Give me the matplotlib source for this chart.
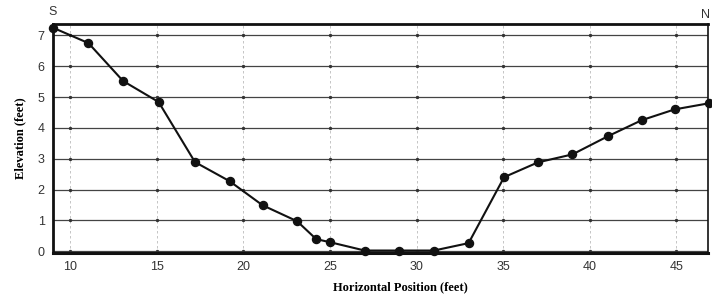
import matplotlib
matplotlib.use("Agg")
import matplotlib.pyplot as plt

x_pos = [9.0, 11.05, 13.05, 15.1, 17.2, 19.2, 21.1, 23.1, 24.2, 25.0, 27.0, 29.0, 31.0, 33.0, 35.05, 37.0, 39.0, 41.05, 43.0, 44.9, 46.9]
elev = [7.25, 6.75, 5.52, 4.84, 2.89, 2.27, 1.49, 0.97, 0.39, 0.29, 0.02, 0.02, 0.02, 0.26, 2.40, 2.88, 3.14, 3.73, 4.25, 4.60, 4.80]
x_ticks = [10, 15, 20, 25, 30, 35, 40, 45]
y_ticks = [0, 1, 2, 3, 4, 5, 6, 7]

fig = plt.figure(figsize=(7.12, 2.95), dpi=100)
ax = fig.add_axes([0.0744, 0.1424, 0.9206, 0.7762])
ax.set_xlim(9.0, 46.85)
ax.set_ylim(-0.06, 7.37)

for yv in y_ticks:
    ax.axhline(yv, color="#444444", lw=0.9, zorder=1)
for xv in x_ticks:
    ax.axvline(xv, color="#bbbbbb", lw=0.6, ls=(0, (3, 3)), zorder=1)
gx = [xv for xv in x_ticks for _ in y_ticks]
gy = [yv for _ in x_ticks for yv in y_ticks]
ax.plot(gx, gy, ls="none", marker="o", ms=1.4, color="#333333", zorder=1)

ax.plot(x_pos, elev, color="#111111", lw=1.5, marker="o", ms=5.8,
        markerfacecolor="#111111", markeredgecolor="#111111", zorder=3, clip_on=False)

ax.set_xticks(x_ticks)
ax.set_yticks(y_ticks)
ax.tick_params(length=0, pad=6, labelsize=9, colors="#333333")
for lab in ax.get_xticklabels() + ax.get_yticklabels():
    lab.set_family("Liberation Sans")
    lab.set_fontstretch("condensed")

ax.spines["top"].set_linewidth(2.0)
ax.spines["left"].set_linewidth(2.0)
ax.spines["bottom"].set_linewidth(2.2)
ax.spines["right"].set_linewidth(1.2)
for s in ax.spines.values():
    s.set_color("#111111")

ax.set_xlabel("Horizontal Position (feet)", family="Liberation Serif", weight="bold", fontsize=9)
ax.xaxis.set_label_coords(0.53, -0.125)
ax.set_ylabel("Elevation (feet)", family="Liberation Serif", weight="bold", fontsize=9)
ax.yaxis.set_label_coords(-0.04, 0.5)

fig.text(53 / 712, 1 - 12 / 295, "S", family="Liberation Sans", fontsize=9, color="#333333",
         ha="center", va="center")
fig.text(706 / 712, 1 - 15 / 295, "N", family="Liberation Sans", fontsize=9, color="#333333",
         ha="center", va="center")

fig.savefig("out.png", dpi=100)
